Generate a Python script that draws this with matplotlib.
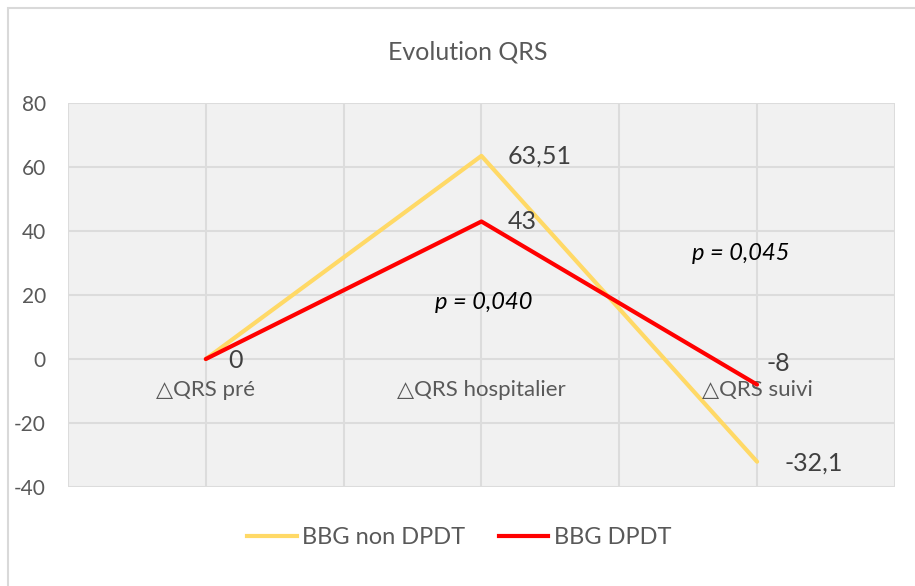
import matplotlib
matplotlib.use("Agg")
import matplotlib.pyplot as plt
from matplotlib.patches import Rectangle
from matplotlib.lines import Line2D

CATEGORIES = ["△QRS pré", "△QRS hospitalier", "△QRS suivi"]
NON_DPDT = [0, 63.51, -32.1]
DPDT = [0, 43, -8]
NON_DPDT_LABELS = ["", "63,51", "-32,1"]
DPDT_LABELS = ["0", "43", "-8"]
P_TEXTS = ["p = 0,040", "p = 0,045"]
P_POS = [(1.01, 17.8), (1.94, 33.1)]
Y_TICKS = [-40, -20, 0, 20, 40, 60, 80]

YELLOW = "#FFD966"
RED = "#FF0000"
GREY = "#595959"
DARK = "#404040"

plt.rcParams["font.family"] = ["Lato", "DejaVu Sans"]
plt.rcParams["hatch.linewidth"] = 0.5
plt.rcParams["hatch.color"] = "#d6d6d6"

fig = plt.figure(figsize=(9.15, 5.86), dpi=100)
ax = fig.add_axes([0.0743, 0.169, 0.9037, 0.655])

# chart border
fig.patches.append(Rectangle((8 / 915, -0.1), 1.2, 1 - 8 / 586 + 0.1, transform=fig.transFigure,
                             fill=False, edgecolor="#d9d9d9", linewidth=1.5))

ax.set_xlim(-0.5, 2.5)
ax.set_ylim(-40, 80)
ax.patch.set_facecolor("#f1f1f1")
ax.patch.set_hatch("//////")
for s in ax.spines.values():
    s.set_visible(False)

ax.set_yticks(Y_TICKS)
ax.set_yticklabels([str(v) for v in Y_TICKS])
ax.set_xticks([-0.5, 0, 0.5, 1, 1.5, 2, 2.5])
ax.set_xticklabels([])
ax.tick_params(length=0, pad=16, labelsize=15, labelcolor=GREY)
ax.grid(True, color="#dcdcdc", linewidth=1.5, zorder=0)
ax.set_axisbelow(True)

x = list(range(len(CATEGORIES)))
ax.plot(x, NON_DPDT, color=YELLOW, linewidth=3, solid_capstyle="round", zorder=3)
ax.plot(x, DPDT, color=RED, linewidth=3, solid_capstyle="round", zorder=4)

# category labels sit just under the zero line
for i, c in enumerate(CATEGORIES):
    ax.annotate(c, (i, 0), xytext=(0, -22), textcoords="offset points",
                ha="center", va="center", fontsize=16, color=GREY)

# data labels, offsets in points
offs_non = [(0, 0), (19, 0), (19.5, -1)]
offs_dpdt = [(16.5, -1), (19, 0), (6.5, 15)]
for i in x:
    if NON_DPDT_LABELS[i]:
        ax.annotate(NON_DPDT_LABELS[i], (i, NON_DPDT[i]), xytext=offs_non[i], textcoords="offset points",
                    ha="left", va="center", fontsize=18, color=DARK)
    ax.annotate(DPDT_LABELS[i], (i, DPDT[i]), xytext=offs_dpdt[i], textcoords="offset points",
                ha="left", va="center", fontsize=18, color=DARK)

for t, (px, py) in zip(P_TEXTS, P_POS):
    ax.text(px, py, t, ha="center", va="center", fontsize=17, style="italic", color="black")

fig.text(0.511, 0.911, "Evolution QRS", ha="center", va="center", fontsize=18, color=GREY)

handles = [Line2D([], [], color=YELLOW, linewidth=3, label="BBG non DPDT"),
           Line2D([], [], color=RED, linewidth=3, label="BBG DPDT")]
leg = fig.legend(handles=handles, loc="center", bbox_to_anchor=(0.502, 0.082), ncol=2, frameon=False,
                 fontsize=17, handlelength=2.1, handletextpad=0.25, columnspacing=1.4)
for t in leg.get_texts():
    t.set_color(GREY)

fig.savefig("out.png", dpi=100)
